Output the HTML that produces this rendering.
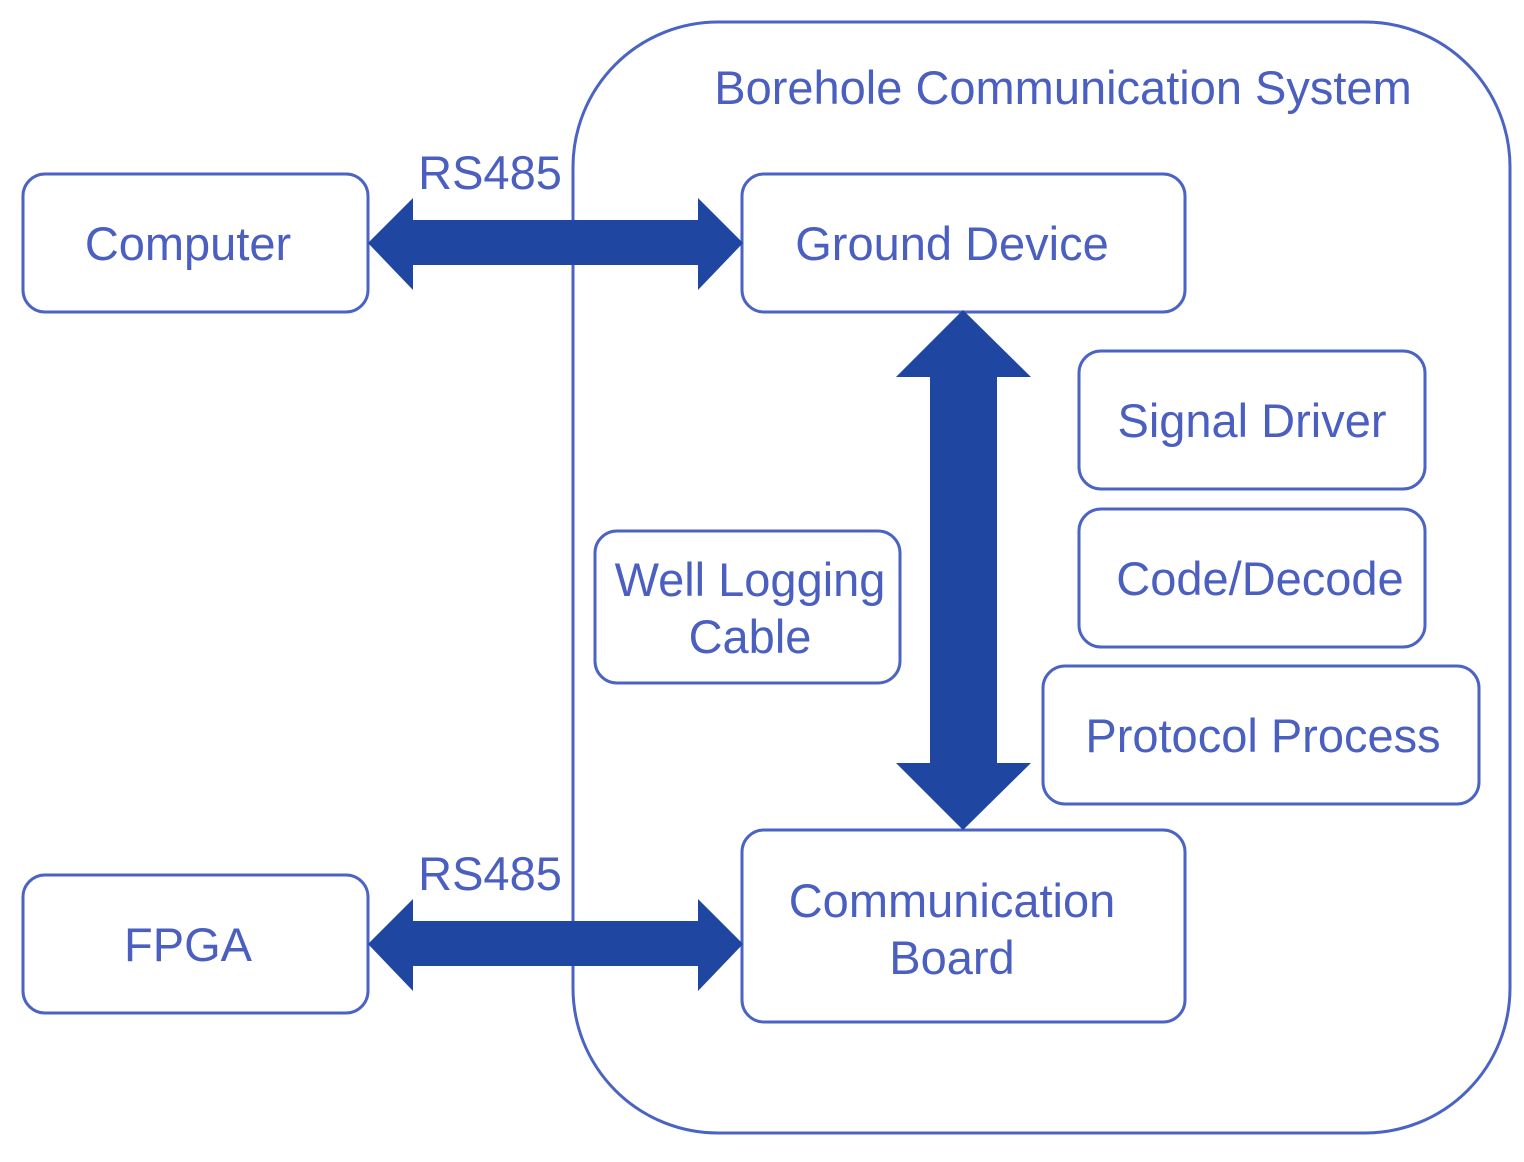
<!DOCTYPE html>
<html><head><style>
html,body{margin:0;padding:0;background:#fff;}
</style></head><body>
<svg width="1524" height="1157" viewBox="0 0 1524 1157" xmlns="http://www.w3.org/2000/svg">
<g fill="none" stroke="#4a63c4" stroke-width="3">
<rect x="573" y="22" width="937" height="1111" rx="145" ry="145"/>
<rect x="23" y="174" width="345" height="138" rx="22"/>
<rect x="742" y="174" width="443" height="138" rx="22"/>
<rect x="1079" y="351" width="346" height="138" rx="22"/>
<rect x="1079" y="509" width="346" height="138" rx="22"/>
<rect x="1043" y="666" width="436" height="138" rx="22"/>
<rect x="595" y="531" width="305" height="152" rx="22"/>
<rect x="742" y="830" width="443" height="192" rx="22"/>
<rect x="23" y="875" width="345" height="138" rx="22"/>
</g>
<g fill="#1f46a0">
<polygon points="368,243 413,198 413,220 698,220 698,198 743,243 698,290 698,265 413,265 413,290"/>
<polygon points="368,944 413,899 413,921 698,921 698,899 743,944 698,991 698,966 413,966 413,991"/>
<polygon points="963,310 1031,377 997,377 997,763 1031,763 963,830 896,763 930,763 930,377 896,377"/>
</g>
<g fill="#4a5fc0" font-family="Liberation Sans, sans-serif" text-anchor="middle" font-size="47">
<text x="1063" y="104">Borehole Communication System</text>
<text x="490" y="189">RS485</text>
<text x="490" y="890">RS485</text>
<text x="188" y="260">Computer</text>
<text x="952" y="260">Ground Device</text>
<text x="1252" y="437">Signal Driver</text>
<text x="1260" y="595">Code/Decode</text>
<text x="1263" y="752">Protocol Process</text>
<text x="750" y="596">Well Logging</text>
<text x="750" y="653">Cable</text>
<text x="952" y="917">Communication</text>
<text x="952" y="974">Board</text>
<text x="188" y="961">FPGA</text>
</g>
</svg>
</body></html>
